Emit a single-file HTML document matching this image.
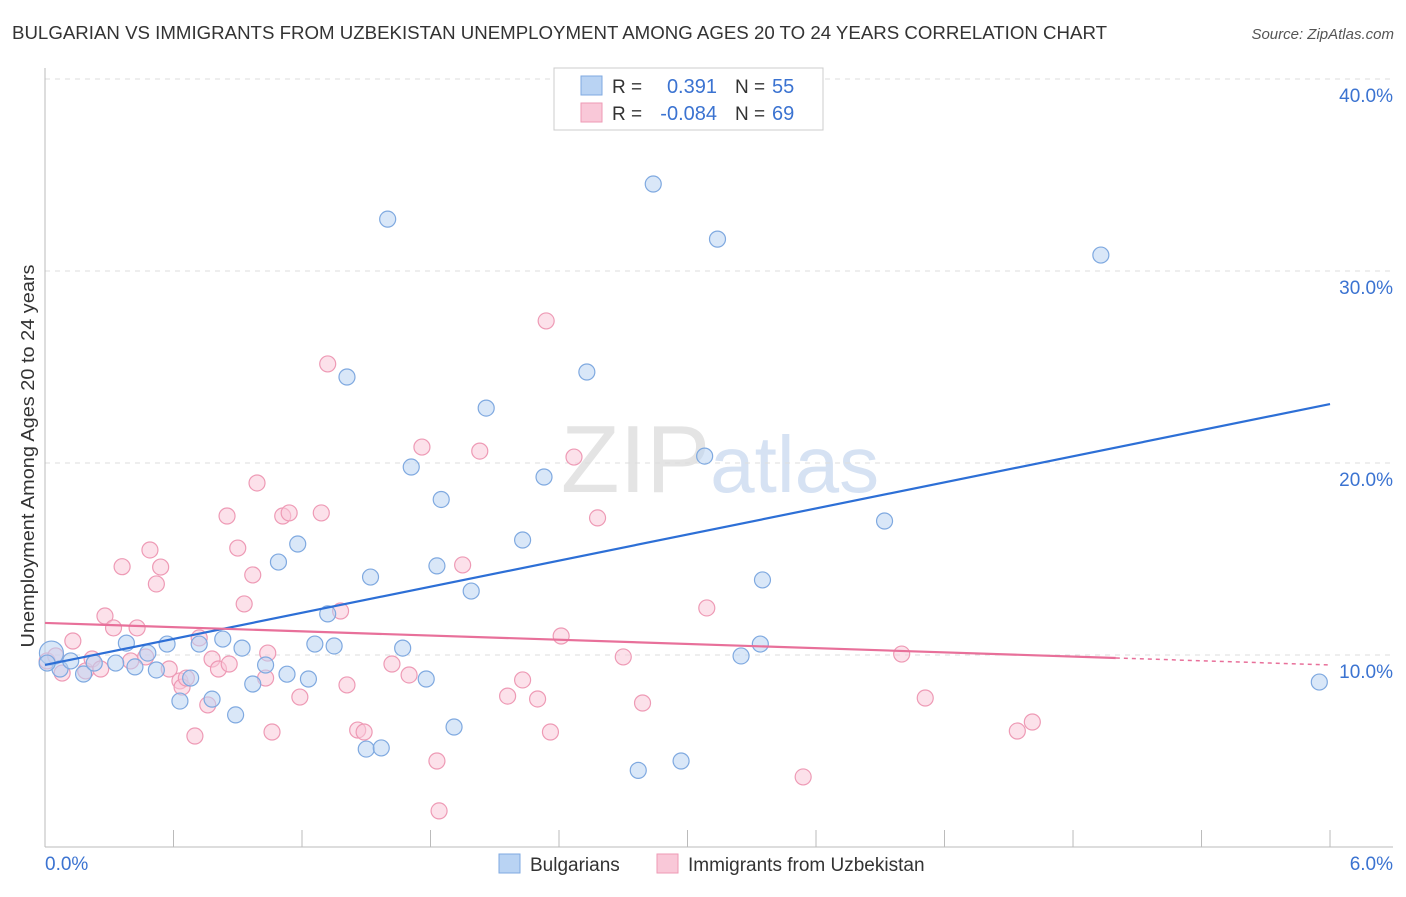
<!DOCTYPE html>
<html><head><meta charset="utf-8"><style>
body{margin:0;background:#fff;font-family:"Liberation Sans",sans-serif}
svg text{font-family:"Liberation Sans",sans-serif}
</style></head><body>
<svg id="chart" width="1406" height="892" xmlns="http://www.w3.org/2000/svg">
<text x="12" y="39" font-size="18" fill="#333" textLength="1095" lengthAdjust="spacingAndGlyphs">BULGARIAN VS IMMIGRANTS FROM UZBEKISTAN UNEMPLOYMENT AMONG AGES 20 TO 24 YEARS CORRELATION CHART</text>
<text x="1394" y="39" font-size="15" fill="#555" text-anchor="end" font-style="italic">Source: ZipAtlas.com</text>
<text x="720" y="492" font-size="96" fill="#e4e4e4" text-anchor="middle" font-family="Liberation Serif">ZIP<tspan fill="#d6e2f3" font-family="Liberation Sans" font-size="80">atlas</tspan></text>
<g id="grid"></g>
<g id="marks"></g>
<text transform="translate(34,456) rotate(-90)" font-size="18" fill="#333" text-anchor="middle" textLength="383" lengthAdjust="spacingAndGlyphs">Unemployment Among Ages 20 to 24 years</text>
<g>
<rect x="554" y="68" width="269" height="62" fill="#fff" stroke="#ccc"/>
<rect x="581" y="76" width="21" height="19" fill="#b9d3f3" stroke="#7fa9e0"/>
<rect x="581" y="103" width="21" height="19" fill="#f9c8d8" stroke="#ee9ab5"/>
<text x="612" y="93" font-size="19" fill="#333">R =</text><text x="717" y="93" font-size="20" fill="#3b73d1" text-anchor="end">0.391</text>
<text x="735" y="93" font-size="19" fill="#333">N =</text><text x="772" y="93" font-size="20" fill="#3b73d1">55</text>
<text x="612" y="120" font-size="19" fill="#333">R =</text><text x="717" y="120" font-size="20" fill="#3b73d1" text-anchor="end">-0.084</text>
<text x="735" y="120" font-size="19" fill="#333">N =</text><text x="772" y="120" font-size="20" fill="#3b73d1">69</text>
</g>
<g>
<rect x="499" y="854" width="21" height="19" fill="#b9d3f3" stroke="#7fa9e0"/>
<text x="530" y="871" font-size="19" fill="#333">Bulgarians</text>
<rect x="657" y="854" width="21" height="19" fill="#f9c8d8" stroke="#ee9ab5"/>
<text x="688" y="871" font-size="19" fill="#333">Immigrants from Uzbekistan</text>
</g>
</svg>
<script>
const xTicks=[0,6];
const yTicks=[10,20,30,40];
const blueX=[0.03,0.07,0.12,0.18,0.23,0.33,0.38,0.42,0.48,0.52,0.57,0.63,0.68,0.72,0.78,0.83,0.89,0.92,0.97,1.03,1.09,1.13,1.18,1.23,1.26,1.32,1.35,1.41,1.5,1.52,1.57,1.6,1.67,1.71,1.78,1.83,1.85,1.91,1.99,2.06,2.23,2.33,2.53,2.77,2.84,2.97,3.08,3.14,3.25,3.34,3.35,3.92,4.93,5.95,0.01];
const blueY=[10.1,9.27,9.69,9.01,9.58,9.58,10.62,9.38,10.1,9.22,10.57,7.6,8.8,10.57,7.7,10.83,6.88,10.36,8.49,9.48,14.84,9.0,15.78,8.75,10.57,12.14,10.47,24.48,5.1,14.06,5.16,32.7,10.36,19.79,8.75,14.64,18.1,6.25,13.33,22.86,15.99,19.27,24.74,3.99,34.53,4.48,20.36,31.66,9.95,10.57,13.91,16.98,30.83,8.59,9.58];
const pinkX=[0.01,0.05,0.08,0.13,0.19,0.22,0.26,0.28,0.32,0.36,0.4,0.43,0.47,0.49,0.52,0.54,0.58,0.63,0.64,0.66,0.7,0.72,0.76,0.78,0.81,0.85,0.86,0.9,0.93,0.97,0.99,1.03,1.04,1.06,1.11,1.14,1.19,1.29,1.32,1.38,1.41,1.46,1.49,1.62,1.7,1.76,1.83,1.84,1.95,2.03,2.16,2.23,2.3,2.34,2.36,2.41,2.47,2.58,2.7,2.79,3.09,3.54,4.0,4.11,4.54,4.61];
const pinkY=[9.69,9.95,9.06,10.73,9.17,9.79,9.27,12.03,11.41,14.6,9.69,11.41,9.9,15.47,13.7,14.58,9.27,8.65,8.33,8.8,5.78,10.89,7.4,9.79,9.27,17.24,9.53,15.57,12.66,14.17,18.96,8.8,10.1,5.99,17.24,17.4,7.81,17.4,25.16,12.29,8.44,6.09,5.99,9.53,8.96,20.83,4.48,1.88,14.69,20.62,7.86,8.7,7.71,27.4,5.99,10.99,20.31,17.14,9.9,7.5,12.45,3.65,10.05,7.76,6.04,6.51];
const blueLine=[9.48,23.07];
const pinkLine=[11.67,9.48];
const NS="http://www.w3.org/2000/svg";
const X=v=>45+v*214.17, Y=v=>847-v*19.2;
function mk(tag,attrs,parent){const e=document.createElementNS(NS,tag);for(const k in attrs)e.setAttribute(k,attrs[k]);parent.appendChild(e);return e;}
const grid=document.getElementById('grid'),marks=document.getElementById('marks');
yTicks.forEach(t=>{
 const l=mk('line',{x1:45,x2:1393,y1:Y(t),y2:Y(t),stroke:'#ddd','stroke-dasharray':'5,5'},grid);
 
 
 const tx=mk('text',{x:1393,y:Y(t)+23,'font-size':19,fill:'#3b73d1','text-anchor':'end'},grid);tx.textContent=t.toFixed(1)+'%';
 
 
});
const ax=mk('line',{x1:45,x2:1393,y1:847,y2:847,stroke:'#bbb'},grid);


const ay=mk('line',{x1:45,x2:45,y1:68,y2:847,stroke:'#bbb'},grid);


for(let i=0;i<=10;i++){const t=mk('line',{x1:X(i*0.6),x2:X(i*0.6),y1:830,y2:847,stroke:'#bbb'},grid);
 
 }
xTicks.forEach((t,i)=>{const tx=mk('text',{x:i?1393:45,y:870,'font-size':19,fill:'#3b73d1','text-anchor':i?'end':'start'},grid);tx.textContent=t.toFixed(1)+'%';
 
 });
function pts(xs,ys,fill,stroke,name){xs.forEach((x,i)=>{const c=mk('circle',{cx:X(x),cy:Y(ys[i]),r:i==0&&name=='bulgarian-point'?12:8,fill:fill,'fill-opacity':0.55,stroke:stroke,'stroke-width':1.2},marks);
 
 });}
pts(pinkX,pinkY,'#f9c8d8','#ee9ab5','uzbekistan-point');
pts(blueX,blueY,'#b9d3f3','#7fa9e0','bulgarian-point');
const bl=mk('line',{x1:X(0),y1:Y(blueLine[0]),x2:X(6),y2:Y(blueLine[1]),stroke:'#2d6fd6','stroke-width':2.2},marks);


const py=x=>pinkLine[0]+(pinkLine[1]-pinkLine[0])*x/6;
const pl=mk('line',{x1:X(0),y1:Y(py(0)),x2:X(5),y2:Y(py(5)),stroke:'#e8709a','stroke-width':2.2},marks);


const pd=mk('line',{x1:X(5),y1:Y(py(5)),x2:X(6),y2:Y(py(6)),stroke:'#e8709a','stroke-width':1.5,'stroke-dasharray':'4,4'},marks);


</script>
</body></html>
